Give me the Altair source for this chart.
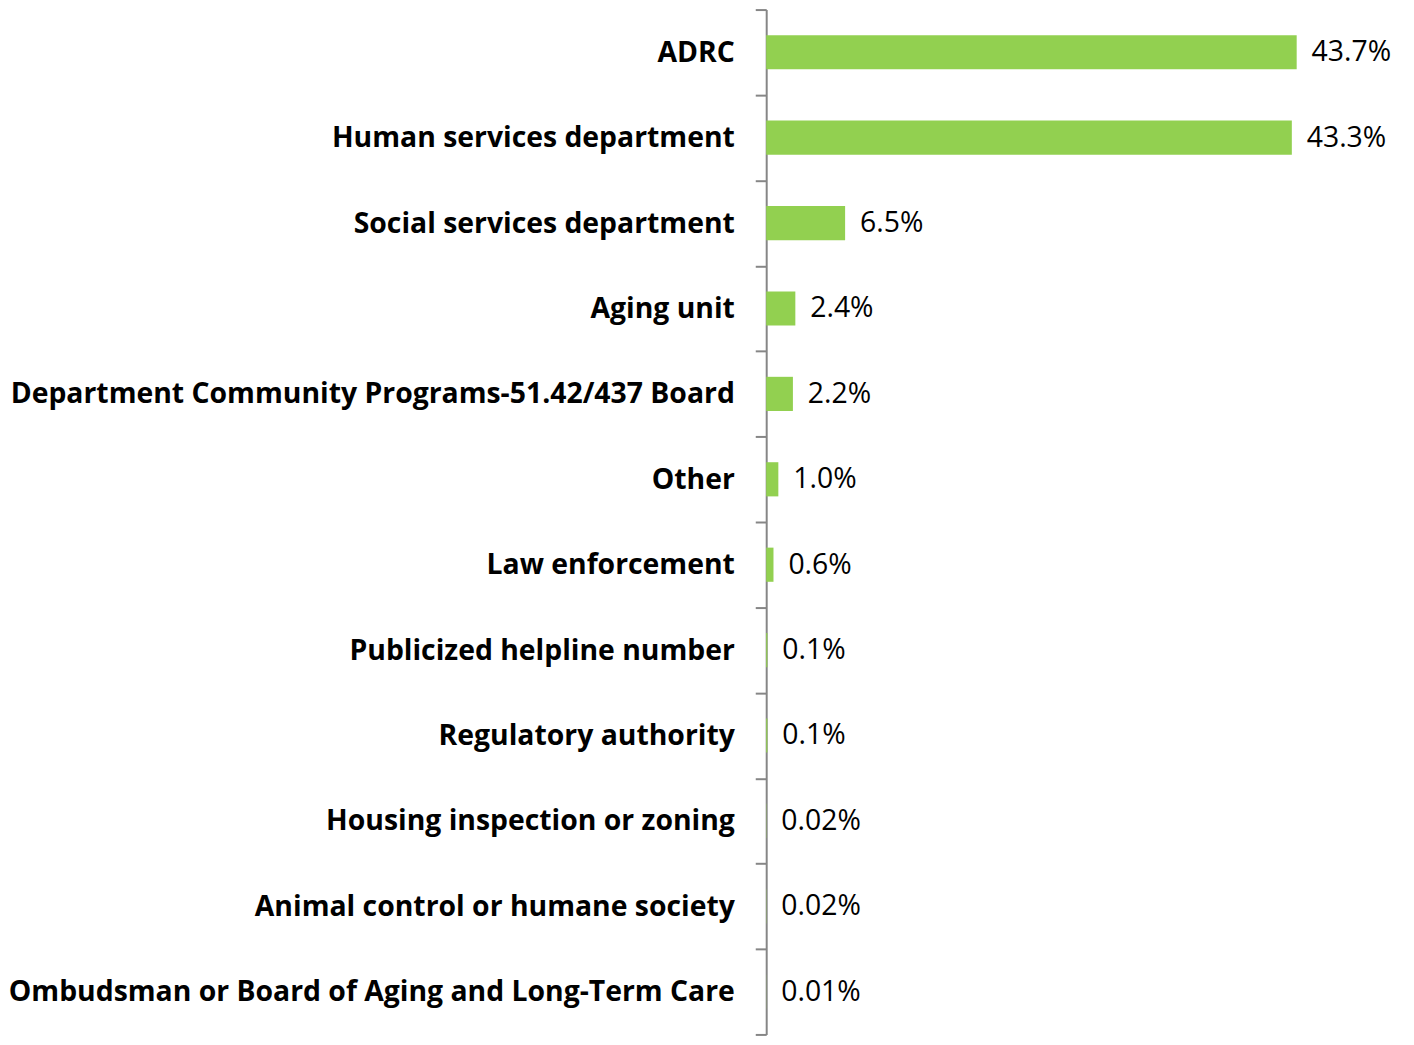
import altair as alt
import pandas as pd

categories = [
    "ADRC",
    "Human services department",
    "Social services department",
    "Aging unit",
    "Department Community Programs-51.42/437 Board",
    "Other",
    "Law enforcement",
    "Publicized helpline number",
    "Regulatory authority",
    "Housing inspection or zoning",
    "Animal control or humane society",
    "Ombudsman or Board of Aging and Long-Term Care",
]
values = [43.7, 43.3, 6.5, 2.4, 2.2, 1.0, 0.6, 0.1, 0.1, 0.02, 0.02, 0.01]
value_labels = ["43.7%", "43.3%", "6.5%", "2.4%", "2.2%", "1.0%", "0.6%",
                "0.1%", "0.1%", "0.02%", "0.02%", "0.01%"]

df = pd.DataFrame({"category": categories, "value": values, "label": value_labels})

W = 610
H = 1030

y_enc = alt.Y(
    "category:N",
    sort=categories,
    scale=alt.Scale(paddingInner=0, paddingOuter=0),
    axis=alt.Axis(
        title=None,
        tickBand="extent",
        tickSize=11,
        tickColor="#868686",
        tickWidth=2,
        domainColor="#868686",
        domainWidth=2,
        labelFont="Open Sans",
        labelFontWeight="bold",
        labelFontSize=28.5,
        labelColor="#000000",
        labelPadding=21,
        labelLimit=0,
    ),
)
x_enc = alt.X(
    "value:Q",
    scale=alt.Scale(domain=[0, 50], nice=False),
    axis=None,
)

bars = alt.Chart(df).mark_bar(
    color="#92D050", height=alt.RelativeBandSize(0.4)
).encode(x=x_enc, y=y_enc)

text = alt.Chart(df).mark_text(
    align="left", baseline="middle", dx=15, font="Open Sans", fontSize=28.5, color="#000000"
).encode(x=x_enc, y=alt.Y("category:N", sort=categories), text="label:N")

chart = (
    alt.layer(bars, text)
    .properties(
        width=W,
        height=H,
        autosize=alt.AutoSizeParams(type="none"),
        padding={"left": 762, "top": -1, "right": 33, "bottom": 0},
    )
    .configure(background="white")
    .configure_view(stroke=None, strokeWidth=0)
)

chart.save("out.html", embed_options={"renderer": "svg", "actions": False})
